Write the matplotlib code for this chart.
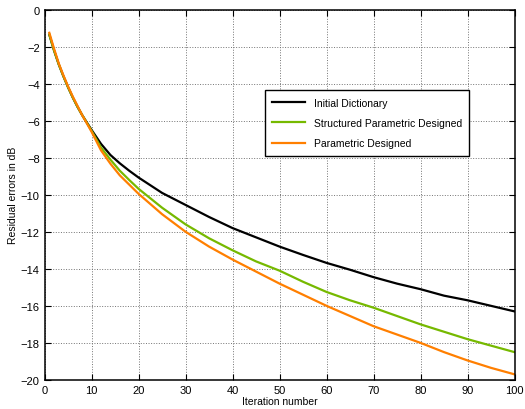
import numpy as np
import matplotlib.pyplot as plt

plt.rcParams['font.family'] = ['Liberation Sans', 'DejaVu Sans']

# iteration numbers where values were read
iters = [1, 2, 3, 4, 5, 6, 7, 8, 9, 10, 12, 14, 16, 18, 20, 25, 30, 35, 40,
         45, 50, 55, 60, 65, 70, 75, 80, 85, 90, 95, 100]

initial_dict = [-1.35, -2.2, -2.95, -3.6, -4.2, -4.75, -5.25, -5.7, -6.1, -6.5,
                -7.25, -7.85, -8.3, -8.7, -9.07, -9.9, -10.55, -11.2, -11.8,
                -12.3, -12.8, -13.25, -13.68, -14.05, -14.45, -14.8, -15.1,
                -15.45, -15.7, -16.0, -16.3]

structured_param = [-1.35, -2.2, -2.95, -3.6, -4.2, -4.75, -5.25, -5.7, -6.12, -6.55,
                    -7.45, -8.1, -8.7, -9.2, -9.68, -10.7, -11.6, -12.35, -13.0,
                    -13.6, -14.1, -14.7, -15.25, -15.7, -16.1, -16.55, -17.0,
                    -17.4, -17.8, -18.15, -18.5]

param_designed = [-1.25, -2.1, -2.9, -3.55, -4.15, -4.7, -5.2, -5.7, -6.15, -6.6,
                  -7.6, -8.32, -8.95, -9.45, -9.95, -11.05, -12.0, -12.8, -13.5,
                  -14.15, -14.8, -15.4, -16.0, -16.55, -17.1, -17.55, -18.0,
                  -18.5, -18.95, -19.35, -19.7]

fig = plt.figure(figsize=(5.25, 4.1), dpi=100)
ax = fig.add_axes([0.085, 0.071, 0.895, 0.903])

ax.plot(iters, initial_dict, color='black', lw=1.6, label='Initial Dictionary')
ax.plot(iters, structured_param, color='#76b900', lw=1.6, label='Structured Parametric Designed')
ax.plot(iters, param_designed, color='#ff7f00', lw=1.6, label='Parametric Designed')

ax.set_xlim(0, 100)
ax.set_ylim(-20, 0)
ax.set_xticks(np.arange(0, 101, 10))
ax.set_yticks(np.arange(-20, 1, 2))
ax.grid(True, linestyle=':', color='0.45', linewidth=0.7)
ax.tick_params(direction='in', top=True, right=True, labelsize=8, length=4, width=0.8)
for s in ax.spines.values():
    s.set_linewidth(1.1)

ax.set_xlabel('Iteration number', fontsize=7.5, labelpad=1)
ax.set_ylabel('Residual errors in dB', fontsize=7.5, labelpad=2)

leg = ax.legend(loc='center', bbox_to_anchor=(0.686, 0.694), fontsize=7.5,
                fancybox=False, framealpha=1, edgecolor='black',
                handlelength=3.2, borderpad=0.7, labelspacing=1.0)
leg.get_frame().set_linewidth(1.0)

fig.savefig('out.png', dpi=100)
